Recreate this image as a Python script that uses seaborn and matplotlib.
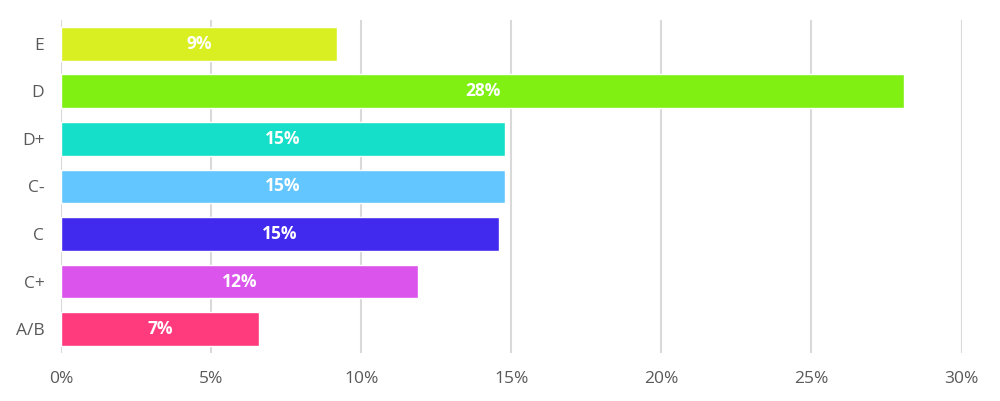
import pandas as pd
import matplotlib
matplotlib.use("Agg")
from matplotlib import pyplot as plt
from matplotlib.ticker import PercentFormatter
import seaborn as sns

grades = ["E", "D", "D+", "C-", "C", "C+", "A/B"]
shares = [9.2, 28.1, 14.8, 14.8, 14.6, 11.9, 6.6]
colors = ["#D9EF22", "#7FF012", "#15DFC8", "#63C6FF", "#4229EE", "#DB55EC", "#FF3A7D"]

df = pd.DataFrame({"grade": grades, "share": shares})

sns.set_style("white")
plt.rcParams["font.family"] = ["Open Sans", "DejaVu Sans"]

fig, ax = plt.subplots(figsize=(10, 4.01), dpi=100)
plt.subplots_adjust(left=0.061, right=0.9615, top=0.95, bottom=0.12)

sns.barplot(data=df, x="share", y="grade", hue="grade", palette=colors,
            order=grades, hue_order=grades, legend=False, width=0.71,
            saturation=1, ax=ax, zorder=3)

for bar, val in zip(ax.patches, shares):
    cy = bar.get_y() + bar.get_height() / 2
    ax.text(bar.get_width() / 2, cy, f"{val:.0f}%", ha="center", va="center",
            color="white", fontsize=12.5, fontweight="bold", zorder=4)

ax.set_xlim(0, 30)
ax.set_ylim(6.5, -0.5)
ax.set_xticks(range(0, 31, 5))
ax.xaxis.set_major_formatter(PercentFormatter(decimals=0))
ax.grid(axis="x", color="#D9D9D9", linewidth=1.5, zorder=0)
ax.set_axisbelow(True)
for s in ax.spines.values():
    s.set_visible(False)
ax.set_xlabel("")
ax.set_ylabel("")
ax.tick_params(axis="both", length=0, labelsize=12.5, labelcolor="#595959")
ax.tick_params(axis="x", pad=13)
ax.tick_params(axis="y", pad=12)

fig.savefig("out.png", dpi=100)
